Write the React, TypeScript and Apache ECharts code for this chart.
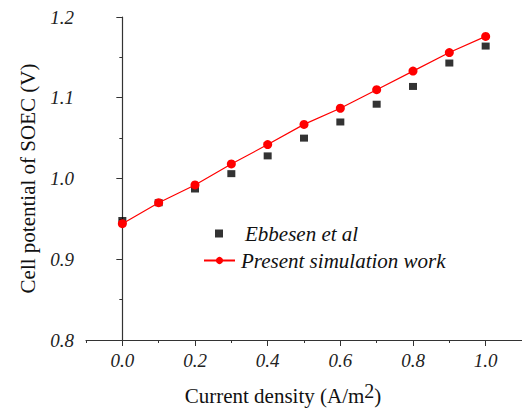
import React, { useEffect, useRef } from "react";
import * as echarts from "echarts";

const currentDensity = [0.0, 0.1, 0.2, 0.3, 0.4, 0.5, 0.6, 0.7, 0.8, 0.9, 1.0];
const ebbesen = [0.948, 0.970, 0.987, 1.006, 1.028, 1.050, 1.070, 1.092, 1.114, 1.143, 1.164];
const simulation = [0.944, 0.970, 0.992, 1.018, 1.042, 1.067, 1.087, 1.110, 1.133, 1.156, 1.176];
const xMajorTicks = [0.0, 0.2, 0.4, 0.6, 0.8, 1.0];
const xMinorTicks = [-0.1, 0.1, 0.3, 0.5, 0.7, 0.9, 1.1];

const SERIF = "Liberation Serif";

export default function App() {
  const ref = useRef<HTMLDivElement>(null);
  useEffect(() => {
    if (!ref.current) return;
    const chart = echarts.init(ref.current, null, { renderer: "svg" });
    const axisLine = { show: true, lineStyle: { color: "#333", width: 1.2 } };
    const legendText = { fontFamily: SERIF, fontStyle: "italic", fontSize: 21, color: "#111" };
    chart.setOption({
      animation: false,
      backgroundColor: "#fff",
      grid: { left: 86, top: 17, width: 438, height: 323 },
      legend: [
        {
          left: 215,
          top: 223,
          padding: 0,
          itemWidth: 8,
          itemHeight: 8,
          data: ["Ebbesen et al"],
          textStyle: { ...legendText, padding: [0, 0, 0, 17] },
        },
        {
          left: 203,
          top: 250,
          padding: 0,
          itemWidth: 31,
          itemHeight: 9,
          data: ["Present simulation work"],
          textStyle: { ...legendText, padding: [0, 0, 0, 1] },
        },
      ],
      xAxis: [
        {
          type: "value",
          min: -0.1,
          max: 1.1,
          axisLine,
          splitLine: { show: false },
          axisTick: { show: true, length: 6, customValues: xMajorTicks, lineStyle: { color: "#333" } },
          axisLabel: {
            customValues: xMajorTicks,
            formatter: (v: number) => v.toFixed(1),
            fontFamily: SERIF,
            fontStyle: "italic",
            fontSize: 19,
            color: "#222",
            margin: 11,
          },
          name: "{n|Current density (A/m}{s|2}{n|)}",
          nameLocation: "middle",
          nameGap: 41,
          nameTextStyle: {
            padding: [0, 42, 0, 0],
            rich: {
              n: { fontFamily: SERIF, fontSize: 21, color: "#111" },
              s: { fontFamily: SERIF, fontSize: 20, color: "#111", verticalAlign: "top", padding: [0, 0, 10, 0] },
            },
          },
        },
        {
          type: "value",
          min: -0.1,
          max: 1.1,
          position: "bottom",
          axisLine: { show: false },
          splitLine: { show: false },
          axisLabel: { show: false },
          axisTick: { show: true, length: 3, customValues: xMinorTicks, lineStyle: { color: "#333" } },
        },
      ],
      yAxis: {
        type: "value",
        min: 0.8,
        max: 1.2,
        interval: 0.1,
        axisLine,
        splitLine: { show: false },
        axisTick: { show: true, length: 6, lineStyle: { color: "#333" } },
        minorTick: { show: true, splitNumber: 2, length: 3, lineStyle: { color: "#333" } },
        axisLabel: {
          formatter: (v: number) => v.toFixed(1),
          fontFamily: SERIF,
          fontStyle: "italic",
          fontSize: 19,
          color: "#222",
          margin: 12,
        },
        name: "Cell potential of SOEC (V)",
        nameLocation: "middle",
        nameRotate: 90,
        nameGap: 48,
        nameTextStyle: { fontFamily: SERIF, fontSize: 21, color: "#111" },
      },
      series: [
        {
          name: "Ebbesen et al",
          type: "scatter",
          symbol: "rect",
          symbolSize: [8, 7],
          itemStyle: { color: "#000" },
          data: currentDensity.map((x, i) => [x, ebbesen[i]]),
        },
        {
          name: "Present simulation work",
          type: "line",
          symbol: "circle",
          symbolSize: 9,
          showSymbol: true,
          itemStyle: { color: "#ff0000" },
          lineStyle: { color: "#ff0000", width: 1.2 },
          data: currentDensity.map((x, i) => [x, simulation[i]]),
        },
      ],
    });
    return () => chart.dispose();
  }, []);
  return (
    <div
      ref={ref}
      style={{ position: "fixed", left: 0, top: 0, width: 522, height: 412, background: "#fff" }}
    />
  );
}
